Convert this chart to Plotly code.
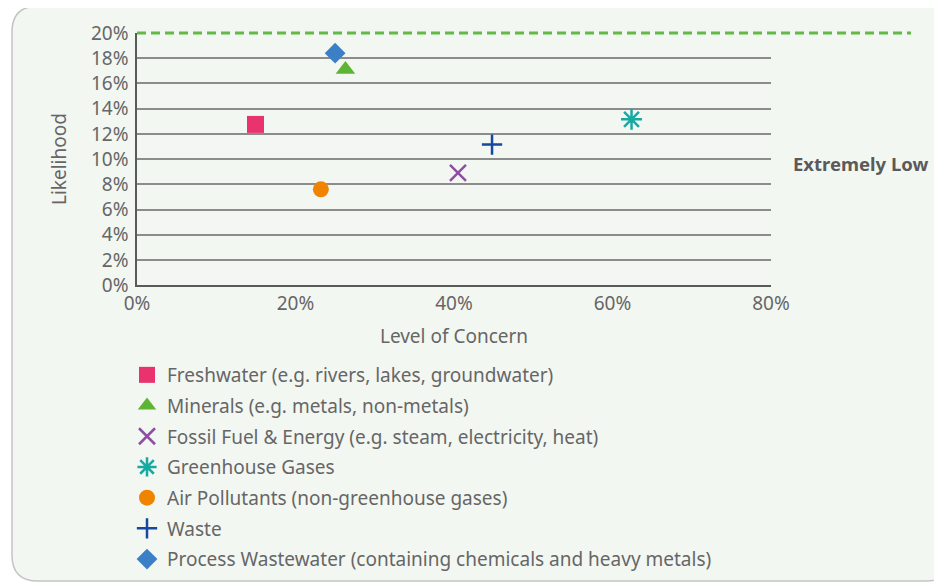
import plotly.graph_objects as go

# ── data ─────────────────────────────────────────────────────────────────────
names = [
    "Freshwater (e.g. rivers, lakes, groundwater)",
    "Minerals (e.g. metals, non-metals)",
    "Fossil Fuel & Energy (e.g. steam, electricity, heat)",
    "Greenhouse Gases",
    "Air Pollutants (non-greenhouse gases)",
    "Waste",
    "Process Wastewater (containing chemicals and heavy metals)",
]
concern = [14.95, 26.3, 40.5, 62.4, 23.2, 44.8, 25.0]      # Level of Concern (%)
likelihood = [12.75, 17.1, 8.9, 13.15, 7.6, 11.15, 18.4]   # Likelihood (%)
threshold = 20                                             # dashed "Extremely Low" line
x_ticks = [0, 20, 40, 60, 80]
y_ticks = [0, 2, 4, 6, 8, 10, 12, 14, 16, 18, 20]

symbols = ["square", "triangle-up", "x-thin-open", "asterisk-open",
           "circle", "cross-thin-open", "diamond"]
colours = ["#e8336f", "#5db533", "#8e4ea3", "#17aaa2",
           "#f08400", "#17479e", "#3b80c6"]
sizes = [17, 17, 16, 17.5, 16, 14.5, 16]

_TEXT = "#666666"
_FONT = "Noto Sans, sans-serif"

# the page body has an 8px margin, so work in screen pixels and shift
OFF = 8
W, H = 942 - OFF, 585 - OFF
L, R, T, B = 137, 771, 32, 286          # plot area in screen pixels
pw, ph = R - L, B - T


def px_x(v):
    return (v - L) / pw


def px_y(v):
    return (B - v) / ph


fig = go.Figure()
for i, n in enumerate(names):
    fig.add_trace(go.Scatter(
        x=[concern[i]], y=[likelihood[i]],
        mode="markers", name=n,
        legendgroup=str(i),
        marker=dict(symbol=symbols[i], size=sizes[i], color=colours[i],
                    line=dict(width=2.5, color=colours[i]) if "open" in symbols[i]
                    else dict(width=0)),
        cliponaxis=False,
        hovertemplate=n + "<br>Concern: %{x}%<br>Likelihood: %{y}%<extra></extra>",
    ))

# card background with rounded corners
x0, x1, y0, y1, r = px_x(12), px_x(952), px_y(584), px_y(5), 26
rx, ry = r / pw, r / ph
card = (f"M {x0+rx},{y1} L {x1-rx},{y1} Q {x1},{y1} {x1},{y1-ry} "
        f"L {x1},{y0+ry} Q {x1},{y0} {x1-rx},{y0} "
        f"L {x0+rx},{y0} Q {x0},{y0} {x0},{y0+ry} "
        f"L {x0},{y1-ry} Q {x0},{y1} {x0+rx},{y1} Z")
fig.add_shape(type="path", path=card, xref="paper", yref="paper",
              fillcolor="#f3f7f2", line=dict(color="#c4c4c4", width=1.5),
              layer="below")

# dashed threshold line (paper refs so it is not clipped at the plot edge)
ty = threshold / y_ticks[-1]
fig.add_shape(type="line", xref="paper", yref="paper",
              x0=0, x1=px_x(911), y0=ty, y1=ty,
              line=dict(color="#63b946", width=3, dash="9px,5px"))

fig.add_annotation(text="<b>Extremely Low</b>", xref="paper", yref="paper",
                   x=px_x(791), y=px_y(163), xanchor="left", yanchor="middle",
                   showarrow=False, font=dict(size=18.5, color="#5a5a5a", family=_FONT))

fig.update_layout(
    width=W, height=H,
    paper_bgcolor="white",
    plot_bgcolor="rgba(0,0,0,0)",
    font=dict(family=_FONT, color=_TEXT, size=19),
    margin=dict(l=L - OFF, r=W + OFF - R, t=T - OFF, b=H + OFF - B, pad=0),
    xaxis=dict(
        range=[0, 80], tickvals=x_ticks, ticktext=[f"{v}%" for v in x_ticks],
        showgrid=False, zeroline=False,
        showline=True, linecolor="#5a5a5a", linewidth=1.5,
        title=dict(text="Level of Concern", standoff=15, font=dict(size=19)),
        tickfont=dict(size=19),
    ),
    yaxis=dict(
        range=[0, 20], tickvals=y_ticks, ticktext=[f"{v}%" for v in y_ticks],
        showgrid=True, gridcolor="#8c8c8c", gridwidth=1.5, zeroline=False,
        showline=True, linecolor="#5a5a5a", linewidth=1.5,
        title=dict(text="Likelihood", standoff=19, font=dict(size=19)),
        ticklabelstandoff=3,
        tickfont=dict(size=19),
    ),
    showlegend=True,
    legend=dict(
        xref="paper", yref="container",
        x=px_x(127), y=1 - (356 - OFF) / H, xanchor="left", yanchor="top",
        orientation="v", traceorder="grouped", tracegroupgap=3,
        bgcolor="rgba(0,0,0,0)", font=dict(size=19, color=_TEXT),
        itemsizing="trace",
    ),
)

fig.write_html("out.html")
